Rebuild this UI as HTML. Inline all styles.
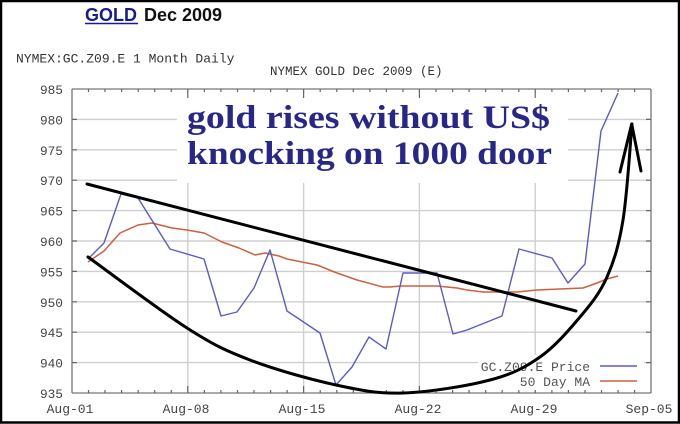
<!DOCTYPE html>
<html><head><meta charset="utf-8"><style>
html,body{margin:0;padding:0;background:#fff;}
svg{display:block;}
</style></head><body>
<svg width="680" height="424" viewBox="0 0 680 424" xmlns="http://www.w3.org/2000/svg">
<rect x="0" y="0" width="680" height="424" fill="#fff"/>
<!-- titles -->
<text x="85" y="21" font-family="Liberation Sans, Arial, sans-serif" font-weight="bold" font-size="18" fill="#1a1a90">GOLD</text>
<line x1="85" y1="23.5" x2="138" y2="23.5" stroke="#1a1a90" stroke-width="1.6"/>
<text x="144" y="21" font-family="Liberation Sans, Arial, sans-serif" font-weight="bold" font-size="18" fill="#111">Dec 2009</text>
<text x="16" y="62.5" font-family="Liberation Mono, monospace" font-size="13" fill="#333">NYMEX:GC.Z09.E 1 Month Daily</text>
<text x="270" y="75" font-family="Liberation Mono, monospace" font-size="12.5" fill="#333">NYMEX GOLD Dec 2009 (E)</text>

<!-- grid horizontal -->
<g stroke="#cfcfcf" stroke-width="1.4">
<line x1="72" y1="119.4" x2="651" y2="119.4"/>
<line x1="72" y1="149.8" x2="651" y2="149.8"/>
<line x1="72" y1="180.2" x2="651" y2="180.2"/>
<line x1="72" y1="210.6" x2="651" y2="210.6"/>
<line x1="72" y1="241" x2="651" y2="241"/>
<line x1="72" y1="271.4" x2="651" y2="271.4"/>
<line x1="72" y1="301.8" x2="651" y2="301.8"/>
<line x1="72" y1="332.2" x2="651" y2="332.2"/>
<line x1="72" y1="362.6" x2="651" y2="362.6"/>
<line x1="187.8" y1="89" x2="187.8" y2="393"/>
<line x1="303.6" y1="89" x2="303.6" y2="393"/>
<line x1="419.4" y1="89" x2="419.4" y2="393"/>
<line x1="535.2" y1="89" x2="535.2" y2="393"/>
</g>
<!-- annotation white box -->
<rect x="177" y="93" width="391" height="90" fill="#fff"/>

<!-- axes frame -->
<g stroke="#777" stroke-width="1.3" fill="none">
<line x1="72" y1="89" x2="651" y2="89"/>
<line x1="72" y1="393" x2="651" y2="393"/>
<line x1="72" y1="89" x2="72" y2="393"/>
<line x1="651" y1="89" x2="651" y2="393"/>
</g>
<!-- ticks -->
<g stroke="#666" stroke-width="1.2">
<path d="M88.5 393v-3M105 393v-3M121.6 393v-3M138.2 393v-3M154.7 393v-3M171.3 393v-3M204.4 393v-3M220.9 393v-3M237.5 393v-3M254 393v-3M270.6 393v-3M287.1 393v-3M320.2 393v-3M336.8 393v-3M353.3 393v-3M369.9 393v-3M386.4 393v-3M403 393v-3M436 393v-3M452.6 393v-3M469.1 393v-3M485.7 393v-3M502.2 393v-3M518.8 393v-3M551.9 393v-3M568.4 393v-3M585 393v-3M601.5 393v-3M618.1 393v-3M634.6 393v-3"/>
<path d="M88.5 89v3M105 89v3M121.6 89v3M138.2 89v3M154.7 89v3M171.3 89v3M204.4 89v3M220.9 89v3M237.5 89v3M254 89v3M270.6 89v3M287.1 89v3M320.2 89v3M336.8 89v3M353.3 89v3M369.9 89v3M386.4 89v3M403 89v3M436 89v3M452.6 89v3M469.1 89v3M485.7 89v3M502.2 89v3M518.8 89v3M551.9 89v3M568.4 89v3M585 89v3M601.5 89v3M618.1 89v3M634.6 89v3"/>
<path d="M187.8 89v9M303.6 89v9M419.4 89v9M535.2 89v9M187.8 393v-7M303.6 393v-7M419.4 393v-7M535.2 393v-7"/>
<path d="M72 119.4h5M72 149.8h5M72 180.2h5M72 210.6h5M72 241h5M72 271.4h5M72 301.8h5M72 332.2h5M72 362.6h5"/>
<path d="M651 119.4h-5M651 149.8h-5M651 180.2h-5M651 210.6h-5M651 241h-5M651 271.4h-5M651 301.8h-5M651 332.2h-5M651 362.6h-5"/>
</g>

<!-- y labels -->
<g font-family="Liberation Mono, monospace" font-size="12.8" fill="#444" text-anchor="end">
<text x="63" y="94">985</text>
<text x="63" y="124.4">980</text>
<text x="63" y="154.8">975</text>
<text x="63" y="185.2">970</text>
<text x="63" y="215.6">965</text>
<text x="63" y="246">960</text>
<text x="63" y="276.4">955</text>
<text x="63" y="306.8">950</text>
<text x="63" y="337.2">945</text>
<text x="63" y="367.6">940</text>
<text x="63" y="398">935</text>
</g>
<!-- x labels -->
<g font-family="Liberation Mono, monospace" font-size="13" fill="#444" text-anchor="middle">
<text x="70" y="413">Aug-01</text>
<text x="186" y="413">Aug-08</text>
<text x="302" y="413">Aug-15</text>
<text x="418" y="413">Aug-22</text>
<text x="534" y="413">Aug-29</text>
<text x="649" y="413">Sep-05</text>
</g>

<!-- annotation text -->
<g font-family="Liberation Serif, 'Times New Roman', serif" font-weight="bold" font-size="33" fill="#27278a">
<text x="187" y="128" textLength="363" lengthAdjust="spacingAndGlyphs">gold rises without US$</text>
<text x="187" y="164" textLength="365" lengthAdjust="spacingAndGlyphs">knocking on 1000 door</text>
</g>

<!-- legend -->
<rect x="478" y="355" width="166" height="35" fill="#fff"/>
<g font-family="Liberation Mono, monospace" font-size="13" fill="#555" text-anchor="end">
<text x="590" y="371">GC.Z09.E Price</text>
<text x="590" y="386">50 Day MA</text>
</g>
<line x1="600" y1="366" x2="637" y2="366" stroke="#5a5acc" stroke-width="1.6"/>
<line x1="600" y1="381" x2="637" y2="381" stroke="#cc6040" stroke-width="1.6"/>

<!-- 50 day MA -->
<polyline fill="none" stroke="#cc6040" stroke-width="1.5" stroke-linejoin="round" points="88,262 104,251 120,233 138,225 152,223 172,228 187,230 204,233 222,242 239,248 255,255 265,253 279,256 287,259 317,265 337,273 357,280 383,287 390,287 400,286 437,286 457,288 467,290 483,292 517,292 537,290 583,288 597,283 607,279 618,276"/>
<!-- price -->
<polyline fill="none" stroke="#5a5acc" stroke-width="1.4" stroke-linejoin="round" points="88,259 104,243 121,194 138,198 170,249 204,259 221,316 237,312 254,288 270,250 287,311 320,333 336,385 352,367 369,337 386,349 403,273 437,273 453,334 467,330 502,316 519,249 552,258 568,283 585,264 601,131 618,93"/>

<!-- trendline -->
<line x1="87" y1="184" x2="576" y2="311" stroke="#000" stroke-width="3" stroke-linecap="round"/>
<!-- U curve with arrow -->
<path fill="none" stroke="#000" stroke-width="3" stroke-linecap="round" d="M88,257 C104.5,268.8 160,310.8 187,328 C214,345.2 225.2,350.5 250,360 C274.8,369.5 310.5,379.5 336,385 C361.5,390.5 377.3,393.8 403,393 C428.7,392.2 467.2,386 490,380 C512.8,374 525,367.5 540,357 C555,346.5 568.8,330.3 580,317 C591.2,303.7 599.8,293.2 607,277 C614.2,260.8 618.8,245.5 623,220 C627.2,194.5 630.5,140 632,124"/>
<path fill="none" stroke="#000" stroke-width="3" stroke-linecap="round" stroke-linejoin="round" d="M620,172 L631.7,124 L641,171"/>

<!-- outer border -->
<rect x="1" y="1" width="678" height="421.5" fill="none" stroke="#000" stroke-width="2.5"/>
</svg>
</body></html>
